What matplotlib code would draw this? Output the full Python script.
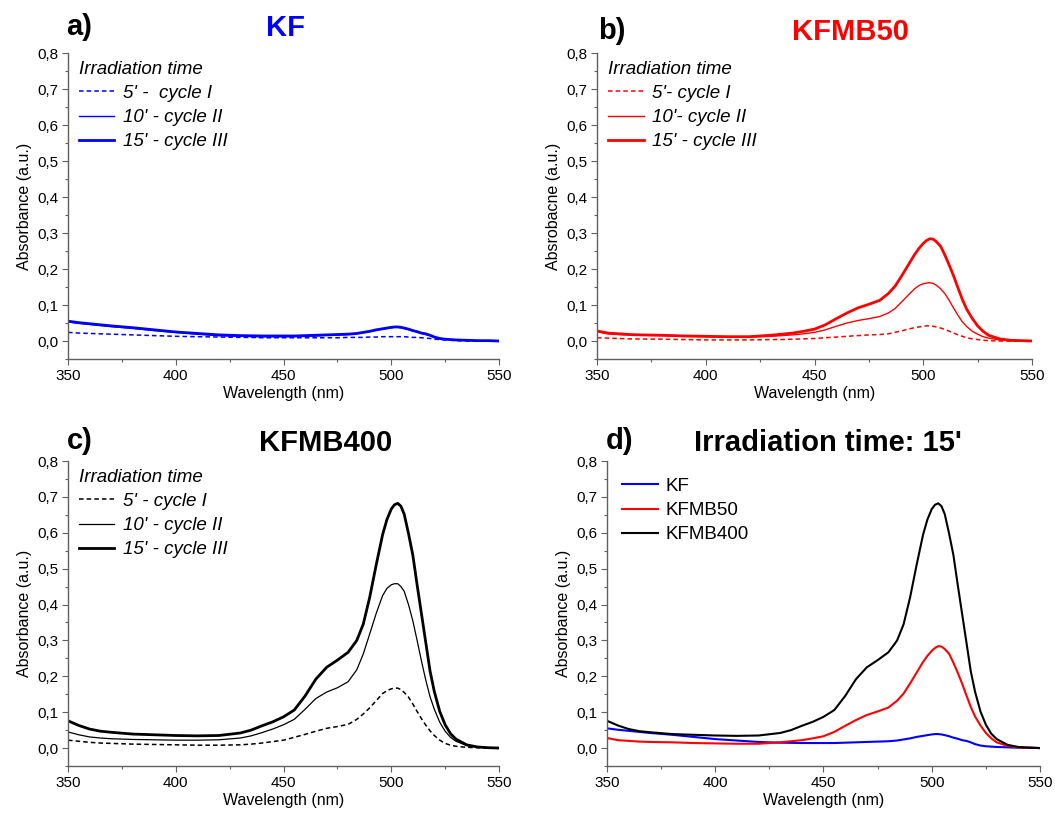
import matplotlib
matplotlib.use("Agg")
import matplotlib.pyplot as plt
from matplotlib.ticker import MultipleLocator, FuncFormatter

plt.rcParams['font.family'] = ['Liberation Sans', 'DejaVu Sans']

# ── values (10 per row) ──
WAVELENGTH = [350, 355, 360, 365, 370, 380, 390, 400, 410, 420,
              430, 435, 440, 445, 450, 455, 460, 465, 470, 475,
              480, 484, 487, 490, 493, 496, 498, 500, 501.5, 503,
              504.5, 506, 508, 510, 512, 514, 516, 518, 520, 522.5,
              525, 527.5, 530, 535, 540, 545, 550]

KF_5 = [0.024, 0.022, 0.021, 0.020, 0.019, 0.017, 0.015, 0.013, 0.012, 0.011,
        0.010, 0.010, 0.009, 0.009, 0.009, 0.009, 0.009, 0.009, 0.009, 0.009,
        0.010, 0.010, 0.010, 0.011, 0.011, 0.012, 0.012, 0.012, 0.012, 0.012,
        0.012, 0.012, 0.011, 0.010, 0.010, 0.009, 0.008, 0.007, 0.005, 0.004,
        0.003, 0.002, 0.001, 0.000, 0.000, 0.000, 0.000]
KF_10 = [0.053, 0.049, 0.046, 0.043, 0.040, 0.035, 0.029, 0.024, 0.019, 0.015,
         0.013, 0.0125, 0.012, 0.012, 0.012, 0.012, 0.013, 0.014, 0.016, 0.017,
         0.018, 0.020, 0.023, 0.026, 0.030, 0.033, 0.035, 0.037, 0.038, 0.038,
         0.037, 0.035, 0.032, 0.028, 0.025, 0.021, 0.018, 0.015, 0.010, 0.007,
         0.005, 0.004, 0.003, 0.002, 0.001, 0.000, 0.000]
KF_15 = [0.055, 0.051, 0.048, 0.045, 0.042, 0.037, 0.031, 0.025, 0.021, 0.017,
         0.015, 0.0145, 0.014, 0.014, 0.014, 0.014, 0.015, 0.016, 0.017, 0.018,
         0.019, 0.021, 0.024, 0.027, 0.031, 0.034, 0.036, 0.038, 0.039, 0.039,
         0.038, 0.036, 0.033, 0.029, 0.026, 0.022, 0.020, 0.016, 0.011, 0.007,
         0.005, 0.004, 0.003, 0.002, 0.001, 0.001, 0.000]

KFMB50_5 = [0.009, 0.008, 0.007, 0.006, 0.0055, 0.005, 0.004, 0.003, 0.003, 0.003,
            0.004, 0.004, 0.005, 0.006, 0.007, 0.009, 0.011, 0.013, 0.015, 0.017,
            0.018, 0.020, 0.024, 0.028, 0.033, 0.037, 0.039, 0.041, 0.042, 0.042,
            0.041, 0.039, 0.036, 0.032, 0.027, 0.022, 0.017, 0.013, 0.009, 0.006,
            0.004, 0.002, 0.001, 0.000, 0.000, 0.000, 0.000]
KFMB50_10 = [0.026, 0.020, 0.018, 0.017, 0.016, 0.015, 0.013, 0.012, 0.011, 0.011,
             0.013, 0.015, 0.017, 0.020, 0.024, 0.031, 0.041, 0.050, 0.057, 0.062,
             0.068, 0.078, 0.090, 0.108, 0.127, 0.145, 0.154, 0.159, 0.161, 0.162,
             0.160, 0.155, 0.145, 0.131, 0.112, 0.091, 0.071, 0.053, 0.040, 0.027,
             0.019, 0.012, 0.008, 0.003, 0.001, 0.000, 0.000]
KFMB50_15 = [0.028, 0.022, 0.020, 0.018, 0.017, 0.016, 0.014, 0.013, 0.012, 0.012,
             0.016, 0.019, 0.022, 0.027, 0.033, 0.045, 0.062, 0.078, 0.092, 0.102,
             0.113, 0.132, 0.152, 0.180, 0.210, 0.240, 0.257, 0.271, 0.279, 0.284,
             0.283, 0.276, 0.263, 0.238, 0.210, 0.180, 0.147, 0.115, 0.088, 0.063,
             0.042, 0.027, 0.016, 0.006, 0.002, 0.001, 0.000]

KFMB400_5 = [0.022, 0.019, 0.016, 0.014, 0.013, 0.011, 0.010, 0.009, 0.008, 0.008,
             0.009, 0.011, 0.014, 0.018, 0.022, 0.030, 0.038, 0.047, 0.055, 0.060,
             0.066, 0.080, 0.095, 0.112, 0.132, 0.152, 0.160, 0.165, 0.167, 0.167,
             0.163, 0.155, 0.142, 0.123, 0.102, 0.082, 0.064, 0.048, 0.035, 0.022,
             0.013, 0.008, 0.005, 0.002, 0.001, 0.000, 0.000]
KFMB400_10 = [0.045, 0.037, 0.031, 0.028, 0.026, 0.024, 0.023, 0.022, 0.022, 0.023,
              0.028, 0.034, 0.043, 0.053, 0.065, 0.080, 0.108, 0.138, 0.156, 0.168,
              0.185, 0.218, 0.262, 0.318, 0.375, 0.425, 0.445, 0.455, 0.458, 0.458,
              0.450, 0.437, 0.400, 0.355, 0.300, 0.243, 0.190, 0.143, 0.108, 0.072,
              0.047, 0.030, 0.019, 0.007, 0.003, 0.001, 0.000]
KFMB400_15 = [0.076, 0.063, 0.053, 0.047, 0.044, 0.039, 0.037, 0.035, 0.034, 0.035,
              0.042, 0.050, 0.062, 0.073, 0.087, 0.106, 0.145, 0.192, 0.225, 0.245,
              0.267, 0.300, 0.345, 0.420, 0.510, 0.595, 0.637, 0.666, 0.678, 0.682,
              0.674, 0.652, 0.598, 0.538, 0.455, 0.375, 0.295, 0.215, 0.157, 0.102,
              0.065, 0.040, 0.025, 0.009, 0.003, 0.001, 0.000]

CYCLE_LABELS_A = ["5' -  cycle I", "10' - cycle II", "15' - cycle III"]
CYCLE_LABELS_B = ["5'- cycle I", "10'- cycle II", "15' - cycle III"]
CYCLE_LABELS_C = ["5' - cycle I", "10' - cycle II", "15' - cycle III"]
SAMPLES = ['KF', 'KFMB50', 'KFMB400']

BLUE = '#0000ff'
RED = '#ff0000'
BLACK = '#000000'
DASH = (0, (3, 2))
FS_LEG = 13.5
W, H = 1055, 822


def comma_fmt(v, pos):
    s = f'{v:.1f}'.replace('.', ',')
    return '0,0' if s == '-0,0' else s


def style_axis(ax, ylabel):
    ax.set_xlim(350, 550)
    ax.set_ylim(-0.05, 0.8)
    for s in ('top', 'right'):
        ax.spines[s].set_visible(False)
    for s in ('left', 'bottom'):
        ax.spines[s].set_color('#606060')
        ax.spines[s].set_linewidth(1.0)
    ax.set_xticks([350, 400, 450, 500, 550])
    ax.xaxis.set_minor_locator(MultipleLocator(25))
    ax.set_yticks([i / 10 for i in range(9)])
    ax.yaxis.set_minor_locator(MultipleLocator(0.05))
    ax.yaxis.set_major_formatter(FuncFormatter(comma_fmt))
    ax.tick_params(which='major', direction='out', length=4, width=0.8,
                   color='#606060', labelsize=11, pad=3)
    ax.tick_params(which='minor', direction='out', length=2.5, width=0.8,
                   color='#606060')
    ax.set_xlabel('Wavelength (nm)', fontsize=11.5, labelpad=2)
    ax.set_ylabel(ylabel, fontsize=11.5, labelpad=4)


def cycle_panel(ax, series, color, labels, thin_lw=1.0):
    ax.plot(WAVELENGTH, series[0], color=color, lw=1.1, ls=DASH, label=labels[0])
    ax.plot(WAVELENGTH, series[1], color=color, lw=thin_lw, label=labels[1])
    ax.plot(WAVELENGTH, series[2], color=color, lw=2.0, label=labels[2])
    ax.legend(title='Irradiation time', loc='upper left', bbox_to_anchor=(0.025, 0.975),
              frameon=False, prop={'style': 'italic', 'size': FS_LEG},
              title_fontproperties={'style': 'italic', 'size': FS_LEG},
              alignment='left', handlelength=1.9, handletextpad=0.45,
              labelspacing=0.38, borderpad=0, borderaxespad=0)


def fig_text(x, y, s, **kw):
    fig.text(x / W, 1 - y / H, s, va='center', **kw)


fig = plt.figure(figsize=(10.55, 8.22), dpi=100)

ax_a = fig.add_axes([68 / W, 1 - 359 / H, 431 / W, 306 / H])
ax_b = fig.add_axes([597 / W, 1 - 359 / H, 435 / W, 306 / H])
ax_c = fig.add_axes([68 / W, 1 - 766 / H, 431 / W, 305 / H])
ax_d = fig.add_axes([607 / W, 1 - 766 / H, 433 / W, 305 / H])

# a) KF
cycle_panel(ax_a, [KF_5, KF_10, KF_15], BLUE, CYCLE_LABELS_A)
style_axis(ax_a, 'Absorbance (a.u.)')

# b) KFMB50
cycle_panel(ax_b, [KFMB50_5, KFMB50_10, KFMB50_15], RED, CYCLE_LABELS_B)
style_axis(ax_b, 'Absrobacne (a.u.)')

# c) KFMB400
cycle_panel(ax_c, [KFMB400_5, KFMB400_10, KFMB400_15], BLACK, CYCLE_LABELS_C, thin_lw=0.9)
style_axis(ax_c, 'Absorbance (a.u.)')

# d) comparison at 15'
ax_d.plot(WAVELENGTH, KF_15, color=BLUE, lw=1.5, label=SAMPLES[0])
ax_d.plot(WAVELENGTH, KFMB50_15, color=RED, lw=1.5, label=SAMPLES[1])
ax_d.plot(WAVELENGTH, KFMB400_15, color=BLACK, lw=1.5, label=SAMPLES[2])
ax_d.legend(loc='upper left', bbox_to_anchor=(0.035, 0.945), frameon=False,
            fontsize=FS_LEG, handlelength=1.9, handletextpad=0.4,
            labelspacing=0.38, borderpad=0, borderaxespad=0)
style_axis(ax_d, 'Absorbance (a.u.)')

# panel letters and titles
title_kw = dict(fontsize=21, fontweight='bold')
fig_text(66, 27, 'a)', ha='left', **title_kw)
fig_text(285, 28, 'KF', ha='center', color=BLUE, **title_kw)
fig_text(598, 31, 'b)', ha='left', **title_kw)
fig_text(851, 32, 'KFMB50', ha='center', color=RED, **title_kw)
fig_text(67, 441, 'c)', ha='left', **title_kw)
fig_text(326, 443, 'KFMB400', ha='center', **title_kw)
fig_text(606, 441, 'd)', ha='left', **title_kw)
fig_text(828, 443, "Irradiation time: 15'", ha='center', **title_kw)

fig.savefig('out.png', dpi=100)
